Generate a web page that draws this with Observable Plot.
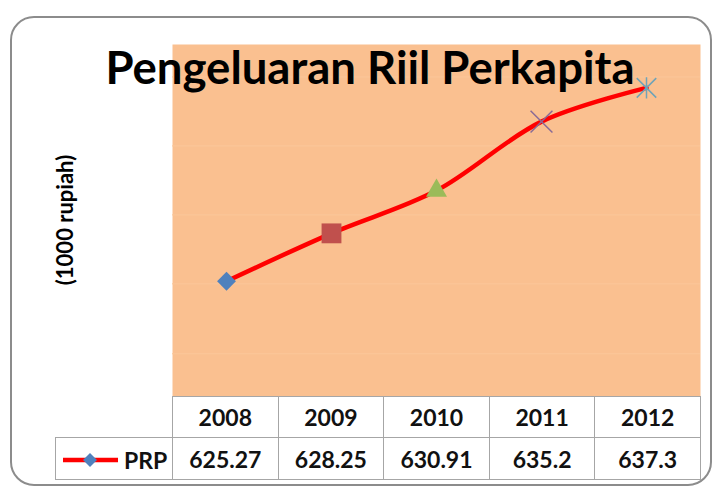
<!DOCTYPE html>
<html>
<head>
<meta charset="utf-8">
<script src="https://cdn.jsdelivr.net/npm/d3@7"></script>
<script src="https://cdn.jsdelivr.net/npm/@observablehq/plot@0.6"></script>
<style>
  body { margin: 0; background: #fff; }
  #wrap { position: relative; width: 716px; height: 487px; overflow: hidden; font-family: Lato, "Open Sans", sans-serif; }
  #border { position: absolute; left: 10px; top: 16px; width: 702px; height: 470px; border: 2px solid #8c8c8c; border-radius: 24px; box-sizing: border-box; }
  #chart { position: absolute; left: 0; top: 0; }
  #title { position: absolute; left: 0; width: 740px; top: 42px; text-align: center; font-weight: bold; font-size: 45.5px; line-height: 50px; color: #000; white-space: nowrap; }
  #ylabel { position: absolute; left: 64px; top: 220px; transform: translate(-50%, -50%) rotate(-90deg); font-weight: bold; font-size: 22px; color: #000; white-space: nowrap; }
  #tbl { position: absolute; left: 55px; top: 396px; border-collapse: collapse; table-layout: fixed; }
  #tbl td { border: 1px solid #a6a6a6; text-align: center; font-weight: bold; font-size: 23px; color: #111; padding: 0; }
  #tbl tr.head td { height: 40px; }
  #tbl tr.vals td { height: 41px; }
  #tbl td.empty { border: none; border-right: 1px solid #a6a6a6; }
  #tbl td.leg { text-align: left; white-space: nowrap; }
  #tbl td.leg svg { vertical-align: middle; }
  #tbl td.leg span { vertical-align: middle; }
</style>
</head>
<body>
<div id="wrap">
  <div id="border"></div>
  <div id="chart"></div>
  <div id="title"></div>
  <div id="ylabel"></div>
  <table id="tbl"></table>
</div>
<script>
// ---- data ----
const titleText = "Pengeluaran Riil Perkapita";
const yLabelText = "(1000 rupiah)";
const seriesName = "PRP";
const years = ["2008", "2009", "2010", "2011", "2012"];
const prp = [625.27, 628.25, 630.91, 635.2, 637.3];
const yDomain = [618.1, 640];
const gridValues = [620.76, 625.11, 629.4, 633.69, 637.98];

// ---- chart ----
const data = years.map((year, i) => ({year, value: prp[i]}));

const starSymbol = {
  draw(ctx, size) {
    const r = Math.sqrt(size) * 0.55;
    ctx.moveTo(-r, -r); ctx.lineTo(r, r);
    ctx.moveTo(-r, r); ctx.lineTo(r, -r);
    ctx.moveTo(0, -r * 1.1); ctx.lineTo(0, r * 1.1);
  }
};

const markerStyles = [
  {symbol: "diamond2", fill: "#4F81BD", stroke: "none", r: 8.5},
  {symbol: "square", fill: "#C0504D", stroke: "none", r: 11.2},
  {symbol: "triangle", fill: "#9BBB59", stroke: "none", r: 7.8},
  {symbol: "times", fill: "none", stroke: "#8A6A96", strokeWidth: 1.5, r: 10},
  {symbol: starSymbol, fill: "none", stroke: "#6FA3B8", strokeWidth: 1.5, r: 10}
];

const chart = Plot.plot({
  width: 716,
  height: 487,
  marginLeft: 172,
  marginRight: 16,
  marginTop: 44,
  marginBottom: 91,
  style: {background: "transparent"},
  x: {type: "point", domain: years, padding: 0.5, axis: null},
  y: {domain: yDomain, axis: null},
  marks: [
    Plot.frame({fill: "#FAC090", stroke: null}),
    Plot.ruleY(gridValues, {stroke: "#FBC79A", strokeWidth: 1}),
    Plot.line(data, {x: "year", y: "value", stroke: "#FF0000", strokeWidth: 4.5, curve: "catmull-rom"}),
    ...data.map((d, i) => Plot.dot([d], {x: "year", y: "value", ...markerStyles[i]}))
  ]
});
document.getElementById("chart").appendChild(chart);

document.getElementById("title").textContent = titleText;
document.getElementById("ylabel").textContent = yLabelText;

// ---- data table ----
const tbl = document.getElementById("tbl");
const colg = document.createElement("colgroup");
const c0 = document.createElement("col"); c0.style.width = "117px"; colg.appendChild(c0);
years.forEach(() => { const c = document.createElement("col"); c.style.width = "105.6px"; colg.appendChild(c); });
tbl.appendChild(colg);

const head = document.createElement("tr"); head.className = "head";
const e = document.createElement("td"); e.className = "empty"; head.appendChild(e);
years.forEach(y => { const td = document.createElement("td"); td.textContent = y; head.appendChild(td); });
tbl.appendChild(head);

const row = document.createElement("tr"); row.className = "vals";
const leg = document.createElement("td"); leg.className = "leg";
leg.innerHTML = '<svg width="62" height="20" style="margin-left:6px"><line x1="1" y1="10" x2="56" y2="10" stroke="#FF0000" stroke-width="4.5"/><path d="M28 3 L35 10 L28 17 L21 10 Z" fill="#4F81BD"/></svg><span>' + seriesName + '</span>';
row.appendChild(leg);
prp.forEach(v => { const td = document.createElement("td"); td.textContent = v; row.appendChild(td); });
tbl.appendChild(row);
</script>
</body>
</html>
